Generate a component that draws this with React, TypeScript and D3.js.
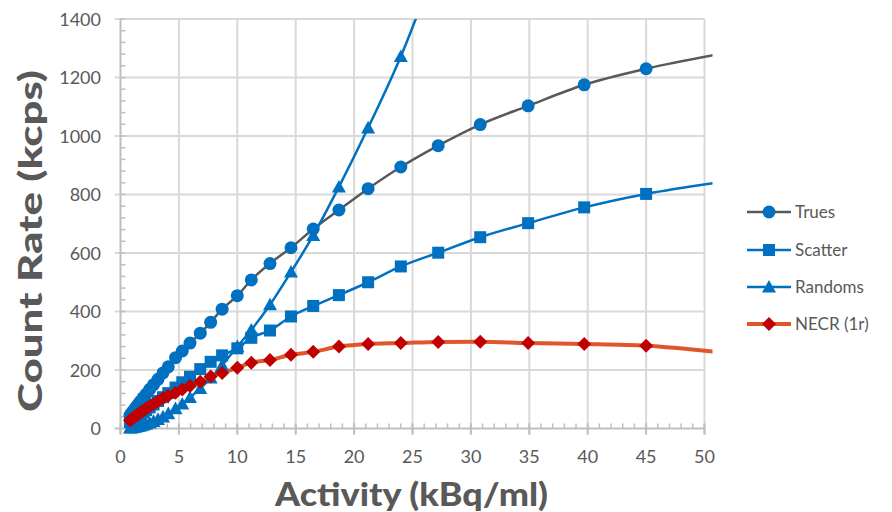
import React from 'react';
import * as d3 from 'd3';

const activity = [0.81, 0.92, 1.04, 1.18, 1.33, 1.51, 1.71, 1.94, 2.2, 2.5, 2.83, 3.21, 3.64, 4.09, 4.71, 5.29, 5.95, 6.83, 7.72, 8.7, 10.0, 11.2, 12.8, 14.6, 16.5, 18.7, 21.2, 24.0, 27.2, 30.8, 34.9, 39.7, 45.0, 51.0];
const trues = [45, 51, 57, 65, 73, 83, 93, 105, 118, 134, 150, 168, 190, 211, 242, 265, 292, 326, 363, 408, 454, 508, 564, 618, 682, 747, 820, 894, 967, 1039, 1103, 1175, 1230, 1278];
const scatter = [22, 25, 28, 32, 37, 42, 48, 55, 63, 72, 82, 94, 107, 121, 140, 158, 177, 203, 228, 250, 274, 310, 335, 383, 419, 456, 500, 554, 601, 654, 702, 756, 802, 840];
const randoms = [2.0, 2.6, 3.3, 4.3, 5.4, 7, 9, 11.5, 14.8, 19, 24.5, 31.5, 40, 51, 68, 84, 106, 137, 173, 216, 280, 337, 423, 535, 660, 826, 1028, 1272, 1600, 1950, 2400, 2950, 3600, 4300];
const necr = [28, 31, 35, 39, 44, 49, 55, 61, 68, 76, 84, 93, 103, 112, 122, 133, 145, 160, 178, 190, 208, 225, 234, 252, 262, 280, 289, 292, 296, 297, 292, 289, 283, 262];

const seriesNames = ['Trues', 'Scatter', 'Randoms', 'NECR (1r)'];
const xTicks = [0, 5, 10, 15, 20, 25, 30, 35, 40, 45, 50];
const yTicks = [0, 200, 400, 600, 800, 1000, 1200, 1400];
const xTitle = 'Activity (kBq/ml)';
const yTitle = 'Count Rate (kcps)';

const W = 892;
const H = 512;
const FONT = 'Lato, "Open Sans", sans-serif';
const TXT = '#595959';
const GRID = '#D9D9D9';
const AXIS = '#BFBFBF';
const BLUE = '#0070C0';

type Marker = 'circle' | 'square' | 'triangle' | 'diamond';

const series: { name: string; values: number[]; line: string; lw: number; fill: string; marker: Marker }[] = [
  { name: seriesNames[0], values: trues, line: '#595959', lw: 2.5, fill: BLUE, marker: 'circle' },
  { name: seriesNames[1], values: scatter, line: BLUE, lw: 2.5, fill: BLUE, marker: 'square' },
  { name: seriesNames[2], values: randoms, line: BLUE, lw: 2.5, fill: BLUE, marker: 'triangle' },
  { name: seriesNames[3], values: necr, line: '#E0562A', lw: 4, fill: '#C00000', marker: 'diamond' },
];

function MarkerShape({ kind, cx, cy, fill }: { kind: Marker; cx: number; cy: number; fill: string }) {
  if (kind === 'circle') return <circle cx={cx} cy={cy} r={6.5} fill={fill} />;
  if (kind === 'square') return <rect x={cx - 6} y={cy - 6} width={12} height={12} fill={fill} />;
  if (kind === 'triangle') {
    const s = 7;
    return <path d={`M${cx},${cy - s} L${cx + s},${cy + s * 0.8} L${cx - s},${cy + s * 0.8} Z`} fill={fill} />;
  }
  const s = 7;
  return <path d={`M${cx},${cy - s} L${cx + s},${cy} L${cx},${cy + s} L${cx - s},${cy} Z`} fill={fill} />;
}

export default function App() {
  const x = d3.scaleLinear().domain([0, 50]).range([120.5, 704.5]);
  const y = d3.scaleLinear().domain([0, 1400]).range([428.5, 19]);
  const [x0, x1] = x.range();
  const [y0, y1] = y.range();

  const minorX = d3.range(0, 51, 1);
  const minorY = d3.range(0, 1401, 40);

  const line = d3
    .line<number>()
    .x((_, i) => x(activity[i]))
    .y((d) => y(d))
    .curve(d3.curveMonotoneX);

  const legendY = [212, 250, 287, 324];

  return (
    <svg width={W} height={H} style={{ position: 'absolute', left: 0, top: 0, background: '#fff' }} fontFamily={FONT}>
      <defs>
        <clipPath id="plot">
          <rect x={x0} y={y1 - 8} width={x1 - x0} height={y0 - y1 + 16} />
        </clipPath>
        <clipPath id="plotTight">
          <rect x={x0} y={y1} width={x1 - x0 + 8} height={y0 - y1} />
        </clipPath>
      </defs>
      <rect x={0} y={0} width={W} height={H} fill="#fff" />
      {/* grid */}
      {xTicks.filter((t) => t > 0).map((t) => (
        <line key={'gx' + t} x1={x(t)} x2={x(t)} y1={y1} y2={y0 + 6} stroke={GRID} strokeWidth={2} />
      ))}
      {yTicks.filter((t) => t > 0).map((t) => (
        <line key={'gy' + t} x1={x0 - 6} x2={x1} y1={y(t)} y2={y(t)} stroke={GRID} strokeWidth={2} />
      ))}
      {/* minor ticks */}
      {minorX.map((t) => (
        <line key={'mx' + t} x1={x(t)} x2={x(t)} y1={y0 - 5} y2={y0} stroke={AXIS} strokeWidth={1.5} />
      ))}
      {minorY.map((t) => (
        <line key={'my' + t} x1={x0} x2={x0 + 5} y1={y(t)} y2={y(t)} stroke={AXIS} strokeWidth={1.5} />
      ))}
      {/* axes */}
      <line x1={x0} x2={x1} y1={y0} y2={y0} stroke={AXIS} strokeWidth={2} />
      <line x1={x0} x2={x0} y1={y1} y2={y0 + 6} stroke={AXIS} strokeWidth={2} />
      <line x1={x0 - 6} x2={x0} y1={y0} y2={y0} stroke={AXIS} strokeWidth={2} />
      {xTicks.map((t) => (
        <line key={'tx' + t} x1={x(t)} x2={x(t)} y1={y0 - 5} y2={y0 + 6} stroke={AXIS} strokeWidth={2} />
      ))}
      {/* tick labels */}
      {xTicks.map((t) => (
        <text key={'lx' + t} x={x(t)} y={463} textAnchor="middle" fontSize={18} fill={TXT}>
          {t}
        </text>
      ))}
      {yTicks.map((t) => (
        <text key={'ly' + t} x={101} y={y(t) + 6.5} textAnchor="end" fontSize={18} fill={TXT}>
          {t}
        </text>
      ))}
      {/* series */}
      <g clipPath="url(#plotTight)">
        {series.map((s) => (
          <path key={'l' + s.name} d={line(s.values) || ''} fill="none" stroke={s.line} strokeWidth={s.lw} />
        ))}
      </g>
      <g clipPath="url(#plot)">
        {series.map((s) => (
          <g key={'m' + s.name}>
            {s.values.map((v, i) => (
              <MarkerShape key={i} kind={s.marker} cx={x(activity[i])} cy={y(v)} fill={s.fill} />
            ))}
          </g>
        ))}
      </g>
      {/* axis titles */}
      <text x={411.5} y={506} textAnchor="middle" fontSize={33} fontWeight={900} fill={TXT} textLength={273} lengthAdjust="spacingAndGlyphs">
        {xTitle}
      </text>
      <text transform={`translate(42,241) rotate(-90)`} textAnchor="middle" fontSize={33} fontWeight={900} fill={TXT} textLength={342} lengthAdjust="spacingAndGlyphs">
        {yTitle}
      </text>
      {/* legend */}
      {series.map((s, i) => (
        <g key={'lg' + s.name}>
          <line x1={747} x2={791} y1={legendY[i]} y2={legendY[i]} stroke={s.line} strokeWidth={s.lw} />
          <MarkerShape kind={s.marker} cx={769} cy={legendY[i]} fill={s.fill} />
          <text x={795} y={legendY[i] + 6} fontSize={17} fill={TXT}>
            {s.name}
          </text>
        </g>
      ))}
    </svg>
  );
}
